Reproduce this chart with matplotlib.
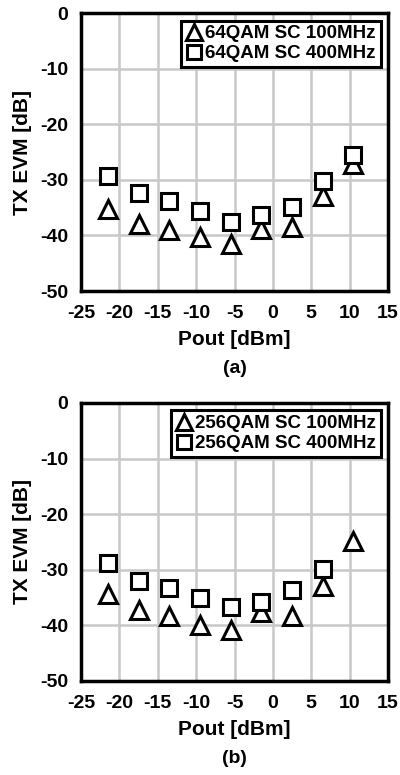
import matplotlib
matplotlib.use('Agg')
import matplotlib.pyplot as plt

plt.rcParams['font.family'] = ['Liberation Sans', 'DejaVu Sans']
plt.rcParams['font.weight'] = 'bold'
plt.rcParams['axes.unicode_minus'] = False

pout = [-21.5, -17.5, -13.5, -9.5, -5.5, -1.5, 2.5, 6.5, 10.5]

evm_64_100 = [-35.2, -38.0, -39.0, -40.3, -41.5, -38.8, -38.4, -33.0, -27.1]
evm_64_400 = [-29.3, -32.4, -33.9, -35.6, -37.5, -36.4, -34.8, -30.3, -25.6]

evm_256_100 = [-34.3, -37.3, -38.3, -40.0, -40.9, -37.6, -38.4, -33.0, -24.9]
evm_256_400 = [-28.8, -32.0, -33.2, -35.1, -36.7, -35.8, -33.7, -29.9]

xticks = [-25, -20, -15, -10, -5, 0, 5, 10, 15]
yticks = [0, -10, -20, -30, -40, -50]

fig = plt.figure(figsize=(4.0, 7.75), dpi=100)
ax1 = fig.add_axes([0.2025, 0.6245, 0.7675, 0.3587])
ax2 = fig.add_axes([0.2025, 0.1213, 0.7675, 0.3587])

panels = [
    (ax1, evm_64_100, evm_64_400, '64QAM SC 100MHz', '64QAM SC 400MHz', '(a)'),
    (ax2, evm_256_100, evm_256_400, '256QAM SC 100MHz', '256QAM SC 400MHz', '(b)'),
]

for ax, tri, sq, lab1, lab2, tag in panels:
    ax.plot(pout[:len(tri)], tri, linestyle='none', marker='^', markersize=13,
            markerfacecolor='white', markeredgecolor='black', markeredgewidth=2.2,
            label=lab1)
    ax.plot(pout[:len(sq)], sq, linestyle='none', marker='s', markersize=12,
            markerfacecolor='white', markeredgecolor='black', markeredgewidth=2.2,
            label=lab2)
    ax.set_xlim(-25, 15)
    ax.set_ylim(-50, 0)
    ax.set_xticks(xticks)
    ax.set_yticks(yticks)
    ax.grid(True, color='#c8c8c8', linewidth=1.8)
    ax.set_axisbelow(True)
    ax.tick_params(length=0, labelsize=14)
    ax.tick_params(axis='x', pad=10)
    ax.tick_params(axis='y', pad=9)
    for s in ax.spines.values():
        s.set_linewidth(2.5)
    ax.set_xlabel('Pout [dBm]', fontsize=15, fontweight='bold', labelpad=6)
    ax.set_ylabel('TX EVM [dB]', fontsize=15, fontweight='bold', labelpad=6)
    leg = ax.legend(loc='upper right', fontsize=13.5, handlelength=0.9,
                    handletextpad=0.15, borderpad=0.25, labelspacing=0.15,
                    fancybox=False, framealpha=1, edgecolor='black',
                    borderaxespad=0.4, markerscale=0.85)
    leg.get_frame().set_linewidth(2.2)
    ax.text(0.5, -0.28, tag, transform=ax.transAxes, ha='center', va='center',
            fontsize=14, fontweight='bold')

fig.savefig('out.png', dpi=100)
